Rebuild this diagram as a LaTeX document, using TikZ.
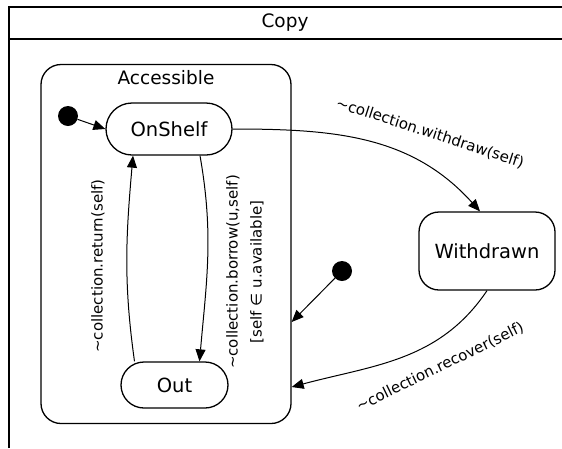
\documentclass[tikz,border=0pt]{standalone}
\usepackage{fontspec}
\setmainfont{DejaVu Sans}
\usetikzlibrary{arrows.meta}
\begin{document}
\begin{tikzpicture}[x=1pt, y=1pt,
        state/.style={draw, line width=1.3pt, rounded corners=20pt, font=\fontsize{19.5}{22}\selectfont, inner sep=0pt},
        init/.style={circle, fill=black, inner sep=0pt, minimum size=20pt},
        trans/.style={line width=1pt, -{Triangle[length=12pt, width=10pt]}},
        lbl/.style={font=\fontsize{15}{24}\selectfont, inner sep=0pt}]
        \useasboundingbox (0,0) rectangle (562,-448);
        
        \draw[line width=1.5pt] (9,-448) -- (9,-7) -- (562,-7);
        \draw[line width=1.5pt] (9,-39) -- (562,-39);
        \node [font=\fontsize{18.5}{20}\selectfont] (Copy) at (285,-23) {Copy};
        
        \node [state, minimum width=250pt, minimum height=359pt] (Acc) at (166,-244) {};
        \node [font=\fontsize{18.5}{20}\selectfont] (AccName) at (166,-78) {Accessible};
        \node [state, rounded corners=26pt, minimum width=126pt, minimum height=52pt] (OnShelf) at (169,-129) {OnShelf};
        \node [state, rounded corners=23pt, minimum width=107pt, minimum height=46pt] (Out) at (174.5,-385) {Out};
        \node [state, minimum width=136pt, minimum height=78pt] (Withdrawn) at (487,-251) {Withdrawn};
        \node [init] (I1) at (68,-116) {};
        \node [init] (I2) at (342,-271) {};
        
        \draw[trans] (I1) -- (OnShelf.west);
        \draw[trans] ([xshift=31pt]OnShelf.south) to[out=-80, in=85] ([xshift=25pt]Out.north);
        \draw[trans] ([xshift=-40pt]Out.north) to[out=98, in=-95] ([xshift=-36pt]OnShelf.south);
        \draw[trans] (OnShelf.east) to[out=0, in=132] ([xshift=-7pt]Withdrawn.north);
        \draw[trans] (I2) -- ([yshift=-78pt]Acc.east);
        \draw[trans] (Withdrawn.south) to[out=-124, in=15] ([yshift=-143pt]Acc.east);
        
        \node [lbl, rotate=90] (Ret) at (98,-266) {\textasciitilde collection.return(self)};
        \node [lbl, rotate=90, align=center] (Bor) at (245,-272) {\textasciitilde collection.borrow(u,self)\\{}[self ∈ u.available]};
        \node [lbl, rotate=-18] (Wdr) at (430,-133) {\textasciitilde collection.withdraw(self)};
        \node [lbl, rotate=26] (Rec) at (440,-367) {\textasciitilde collection.recover(self)};
    \end{tikzpicture}
\end{document}
